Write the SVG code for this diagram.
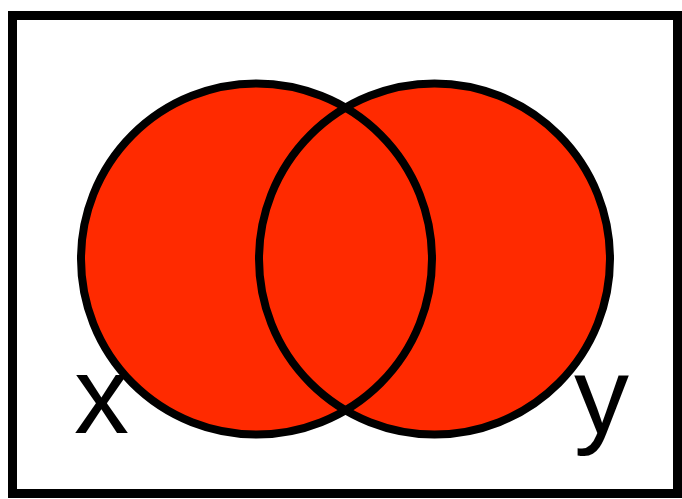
<svg xmlns="http://www.w3.org/2000/svg" width="682" height="499" viewBox="0 0 682 499">
<style>
.fill{fill:#ff2a00;stroke:none}
.ring{fill:none;stroke:#000;stroke-width:8}
.lbl{font-family:"Liberation Sans",Arial,sans-serif;font-size:110px;fill:#000}
</style>
<rect x="0" y="0" width="682" height="499" fill="#fff"/>
<rect id="frame" x="12.5" y="15.5" width="665" height="478" fill="#fff" stroke="#000" stroke-width="9"/>
<g id="setX">
<circle class="fill" cx="256.5" cy="259" r="175.5"/>
</g>
<g id="setY">
<circle class="fill" cx="434.5" cy="259" r="175.5"/>
</g>
<g id="outlines">
<circle class="ring" cx="256.5" cy="259" r="175.5"/>
<circle class="ring" cx="434.5" cy="259" r="175.5"/>
</g>
<text class="lbl" x="74" y="433">x</text>
<text class="lbl" x="574" y="433">y</text>
</svg>
